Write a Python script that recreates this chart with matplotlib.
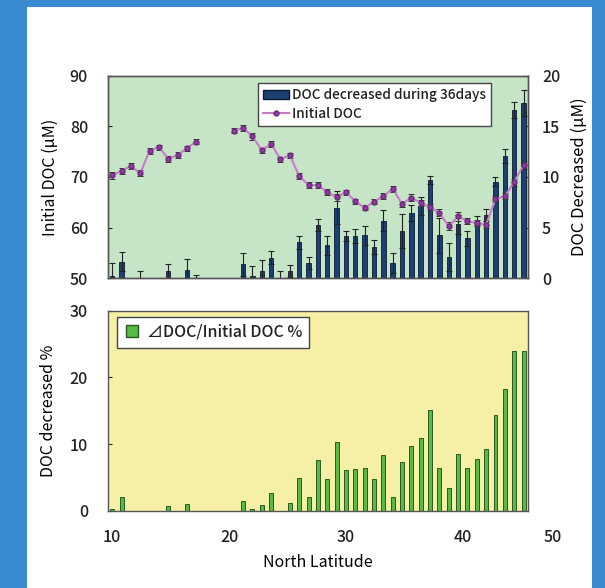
import matplotlib
matplotlib.use("Agg")
import matplotlib.pyplot as plt
import numpy as np
from matplotlib.lines import Line2D
from matplotlib.patches import Patch, Rectangle

plt.rcParams['font.family'] = ['Noto Sans CJK JP', 'DejaVu Sans']
plt.rcParams['font.weight'] = 'medium'
plt.rcParams['text.color'] = '#222222'
plt.rcParams['xtick.color'] = '#222222'
plt.rcParams['ytick.color'] = '#222222'

# station latitudes (deg N), one per sample
lat = [10.0, 10.8, 11.6, 12.4, 13.2, 14.0, 14.8, 15.6, 16.4, 17.2,
       18.0, 18.8, 19.6, 20.4, 21.2, 22.0, 22.8, 23.6, 24.4, 25.2,
       26.0, 26.8, 27.6, 28.4, 29.2, 30.0, 30.8, 31.6, 32.4, 33.2,
       34.0, 34.8, 35.6, 36.4, 37.2, 38.0, 38.8, 39.6, 40.4, 41.2,
       42.0, 42.8, 43.6, 44.4, 45.2]

nan = np.nan
# DOC decreased during 36 days (uM) and its error
doc_dec = [0.2, 1.65, nan, 0.05, nan, nan, 0.72, nan, 0.82, 0.05,
           nan, nan, nan, nan, 1.38, 0.23, 0.72, 2.04, 0.05, 0.72,
           3.55, 1.5, 5.25, 3.26, 6.97, 4.18, 4.18, 4.24, 3.1, 5.7,
           1.5, 4.67, 6.45, 7.17, 9.7, 4.24, 2.14, 5.33, 3.95, 5.7,
           6.25, 9.54, 12.1, 16.6, 17.3]
doc_dec_err = [1.3, 0.9, nan, 0.7, nan, nan, 0.65, nan, 1.1, 0.3,
               nan, nan, nan, nan, 1.15, 1.0, 1.1, 0.66, 0.7, 0.6,
               0.66, 0.62, 0.6, 0.95, 1.6, 0.46, 0.66, 0.95, 0.72, 1.0,
               1.0, 1.64, 0.82, 0.89, 0.43, 1.74, 1.38, 0.95, 0.72, 0.46,
               0.56, 0.43, 0.7, 0.76, 1.28]

# initial DOC (uM)
init_doc = [70.3, 71.2, 72.2, 70.7, 75.2, 75.9, 73.6, 74.3, 75.7, 77.0,
            nan, nan, nan, 79.1, 79.7, 78.0, 75.3, 76.5, 73.5, 74.3,
            70.2, 68.4, 68.4, 67.0, 66.0, 67.0, 65.2, 63.9, 65.1, 66.2,
            67.7, 64.7, 65.9, 64.9, 64.0, 62.9, 60.3, 62.2, 61.3, 60.9,
            60.6, 65.6, 66.2, 69.0, 72.4]
init_err = [0.7, 0.6, 0.6, 0.6, 0.6, 0.5, 0.6, 0.6, 0.5, 0.5,
            nan, nan, nan, 0.5, 0.6, 0.6, 0.5, 0.6, 0.5, 0.5,
            0.5, 0.6, 0.6, 0.6, 0.7, 0.5, 0.5, 0.5, 0.5, 0.6,
            0.6, 0.6, 0.7, 0.6, 0.6, 0.7, 0.8, 0.9, 0.6, 0.6,
            0.7, 0.6, 0.6, 0.7, 0.8]

# delta DOC / initial DOC (%)
pct = [0.2, 2.1, nan, nan, nan, nan, 0.7, nan, 1.0, nan,
       nan, nan, nan, nan, 1.5, 0.3, 0.9, 2.6, nan, 1.1,
       4.85, 2.05, 7.65, 4.75, 10.35, 6.05, 6.25, 6.45, 4.75, 8.35,
       2.1, 7.3, 9.7, 10.85, 15.05, 6.45, 3.4, 8.5, 6.35, 7.8,
       9.2, 14.35, 18.25, 23.9, 23.9]

lat = np.array(lat)
doc_dec = np.array(doc_dec)
pct = np.array(pct)

TICK = 11.5
LAB = 11.5

fig = plt.figure(figsize=(6.05, 5.88), dpi=100, facecolor='#3a8ad0')
fig.patches.append(Rectangle((0.0446, 0.0), 0.934, 0.988, transform=fig.transFigure,
                             facecolor='white', edgecolor='none', zorder=-10))

xmin, xmax = 9.6, 45.58

# ---- top panel: bars on the base axes (right scale), line on the twin (left scale)
ax_bar = fig.add_axes([0.1777, 0.5267, 0.695, 0.3446])
ax_line = ax_bar.twinx()

ax_bar.set_facecolor('#c6e5c6')
ok = ~np.isnan(doc_dec)
ax_bar.bar(lat[ok], doc_dec[ok], width=0.38, color='#1d3f72', edgecolor='#0b1a33',
           linewidth=0.6, zorder=2)
ax_bar.errorbar(lat, doc_dec, yerr=doc_dec_err, fmt='none', ecolor='#222222',
                elinewidth=0.8, capsize=2.5, capthick=0.8, zorder=3)
ax_bar.set_ylim(0, 20)
ax_bar.set_yticks([0, 5, 10, 15, 20])
ax_bar.set_xlim(xmin, xmax)
ax_bar.yaxis.tick_right()
ax_bar.yaxis.set_label_position('right')
ax_bar.set_ylabel('DOC Decreased (µM)', fontsize=LAB + 0.5, labelpad=8)
ax_bar.tick_params(axis='y', direction='in', length=3, labelsize=TICK, pad=10)
ax_bar.tick_params(axis='x', bottom=False, labelbottom=False)

ax_line.errorbar(lat, init_doc, yerr=init_err, fmt='-o', color='#c67cc9', lw=1.5,
                 ms=3.5, mfc='#8e3c9e', mec='#6a2a78', ecolor='#333333',
                 elinewidth=0.7, capsize=2, capthick=0.7, zorder=4)
ax_line.set_ylim(50, 90)
ax_line.set_yticks([50, 60, 70, 80, 90])
ax_line.yaxis.tick_left()
ax_line.yaxis.set_label_position('left')
ax_line.set_ylabel('Initial DOC (µM)', fontsize=LAB, labelpad=8)
ax_line.tick_params(axis='y', direction='in', length=3, labelsize=TICK, pad=14)
ax_line.set_xlim(xmin, xmax)
for a in (ax_bar, ax_line):
    for s in a.spines.values():
        s.set_color('#555555')
        s.set_linewidth(1.0)

h1 = [Patch(facecolor='#1d3f72', edgecolor='#0b1a33'),
      Line2D([], [], color='#c67cc9', lw=1.5, marker='o', ms=3.5,
             mfc='#8e3c9e', mec='#6a2a78')]
leg1 = ax_line.legend(h1, ['DOC decreased during 36days', 'Initial DOC'],
                      loc='upper right', bbox_to_anchor=(0.912, 0.965),
                      fontsize=9.8, frameon=True, fancybox=False, framealpha=1,
                      edgecolor='#444444', handlelength=1.9, handleheight=0.7,
                      handletextpad=0.2, borderpad=0.4, labelspacing=0.35,
                      borderaxespad=0)
leg1.get_frame().set_linewidth(1.0)

# ---- bottom panel
ax3 = fig.add_axes([0.1777, 0.1315, 0.695, 0.3401])
ax3.set_facecolor('#f5f0a6')
ok = ~np.isnan(pct)
ax3.bar(lat[ok], pct[ok], width=0.34, color='#57ba45', edgecolor='#2b5a22',
        linewidth=0.7, zorder=2)
ax3.set_xlim(xmin, xmax)
ax3.set_ylim(0, 30)
ax3.set_yticks([0, 10, 20, 30])
ax3.set_xticks([10, 20, 30, 40])
ax3.tick_params(axis='y', direction='in', length=3, labelsize=TICK, pad=14)
ax3.tick_params(axis='x', length=0, labelsize=TICK, pad=13)
ax3.annotate('50', xy=(47.7, 0), xycoords=ax3.get_xaxis_transform(),
             xytext=(0, -13), textcoords='offset points', fontsize=TICK,
             ha='center', va='top', annotation_clip=False)
ax3.set_ylabel('DOC decreased %', fontsize=LAB, labelpad=9)
ax3.set_xlabel('North Latitude', fontsize=LAB, labelpad=6)
for s in ax3.spines.values():
    s.set_color('#555555')
    s.set_linewidth(1.0)

h2 = [Line2D([], [], color='none', marker='s', ms=8, mfc='#57ba45', mec='#2b5a22')]
leg2 = ax3.legend(h2, ['⊿DOC/Initial DOC %'], loc='upper left',
                  bbox_to_anchor=(0.023, 0.97), fontsize=11.5, frameon=True,
                  fancybox=False, framealpha=1, edgecolor='#444444',
                  handlelength=1.0, handletextpad=0.4, borderpad=0.45,
                  borderaxespad=0)
leg2.get_frame().set_linewidth(1.0)

fig.savefig('out.png', dpi=100, facecolor=fig.get_facecolor())
